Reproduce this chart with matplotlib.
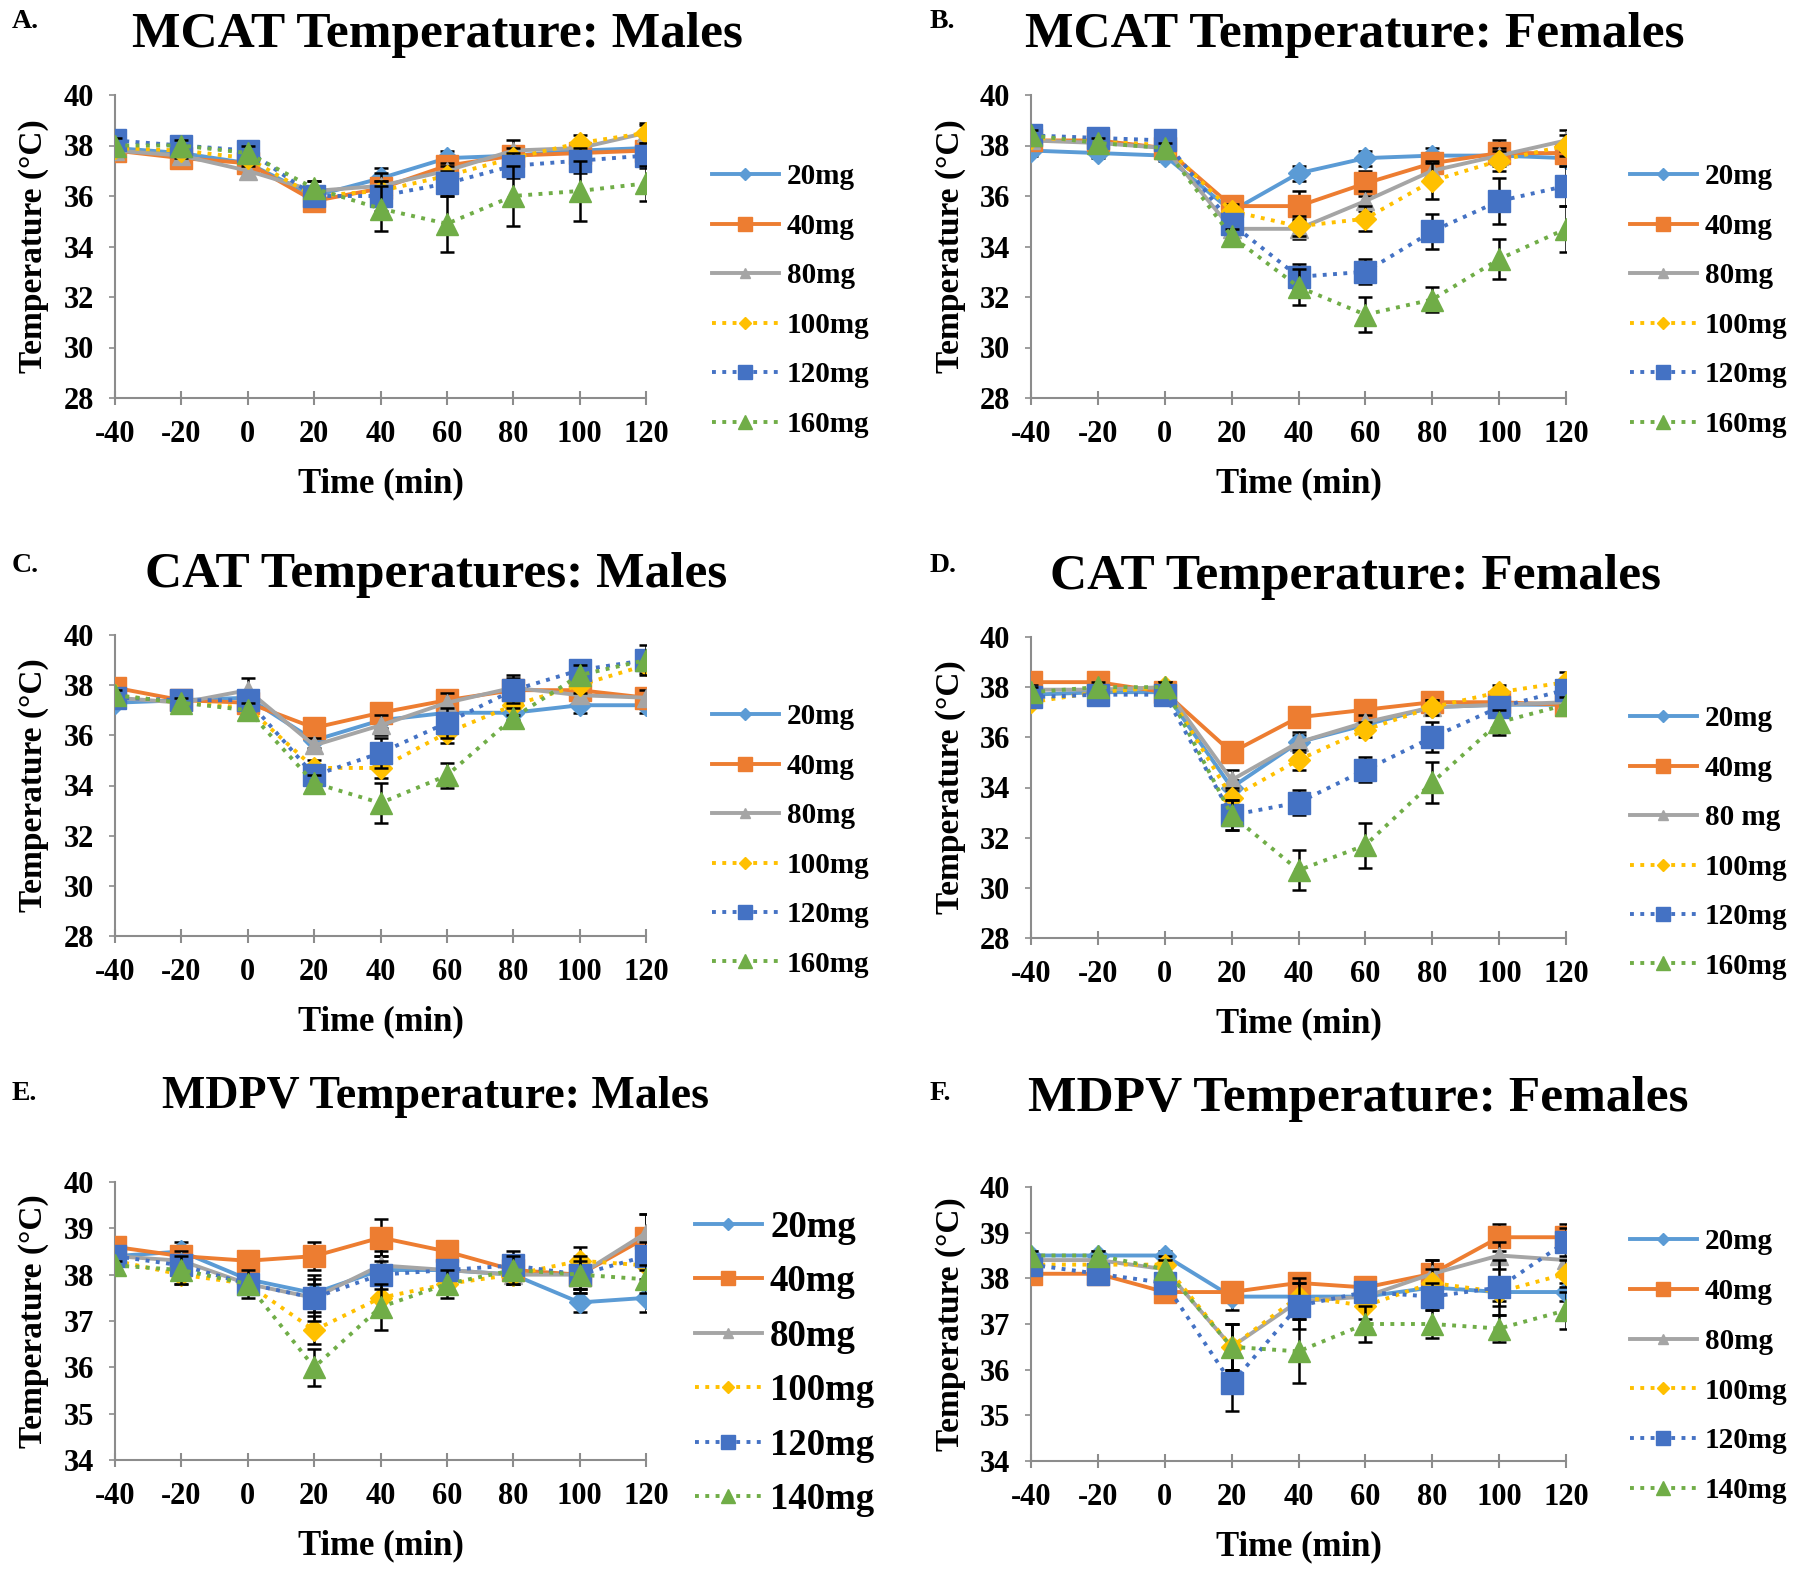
import numpy as np
import matplotlib
matplotlib.use("Agg")
import matplotlib.pyplot as plt

plt.rcParams['font.family'] = ['Liberation Serif', 'DejaVu Serif']
plt.rcParams['font.weight'] = 'bold'

# x categories (min)
times = [-40, -20, 0, 20, 40, 60, 80, 100, 120]

doses_a = ['20mg', '40mg', '80mg', '100mg', '120mg', '160mg']
doses_d = ['20mg', '40mg', '80 mg', '100mg', '120mg', '160mg']
doses_e = ['20mg', '40mg', '80mg', '100mg', '120mg', '140mg']

# A. MCAT males
mcat_m = [
    [37.9, 37.7, 37.3, 36.0, 36.7, 37.5, 37.6, 37.8, 37.9],
    [37.8, 37.5, 37.3, 35.8, 36.3, 37.2, 37.6, 37.7, 37.8],
    [37.8, 37.6, 37.0, 36.2, 36.4, 37.0, 37.8, 37.9, 38.5],
    [37.9, 37.8, 37.5, 36.0, 36.2, 36.8, 37.5, 38.1, 38.5],
    [38.2, 38.0, 37.8, 36.0, 36.0, 36.5, 37.2, 37.4, 37.6],
    [38.0, 38.0, 37.7, 36.3, 35.5, 34.9, 36.0, 36.2, 36.5],
]
mcat_m_sem = [
    [0.3, 0.2, 0.3, 0.3, 0.4, 0.3, 0.3, 0.3, 0.3],
    [0.3, 0.3, 0.3, 0.3, 0.4, 0.3, 0.3, 0.3, 0.3],
    [0.3, 0.3, 0.3, 0.4, 0.5, 0.3, 0.4, 0.3, 0.3],
    [0.3, 0.3, 0.3, 0.4, 0.4, 0.4, 0.4, 0.3, 0.4],
    [0.3, 0.3, 0.3, 0.4, 0.6, 0.5, 0.5, 0.5, 0.5],
    [0.3, 0.2, 0.3, 0.3, 0.9, 1.1, 1.2, 1.2, 0.7],
]

# B. MCAT females
mcat_f = [
    [37.8, 37.7, 37.6, 35.4, 36.9, 37.5, 37.6, 37.6, 37.5],
    [38.2, 38.2, 37.9, 35.6, 35.6, 36.5, 37.3, 37.7, 37.7],
    [38.2, 38.1, 37.9, 34.7, 34.7, 35.8, 37.0, 37.6, 38.2],
    [38.3, 38.2, 38.0, 35.4, 34.8, 35.1, 36.6, 37.4, 38.0],
    [38.4, 38.3, 38.2, 34.9, 32.8, 33.0, 34.6, 35.8, 36.4],
    [38.4, 38.1, 37.9, 34.4, 32.4, 31.3, 31.9, 33.5, 34.7],
]
mcat_f_sem = [
    [0.2, 0.2, 0.2, 0.3, 0.3, 0.3, 0.3, 0.3, 0.3],
    [0.2, 0.2, 0.2, 0.3, 0.6, 0.5, 0.4, 0.5, 0.4],
    [0.2, 0.2, 0.2, 0.3, 0.4, 0.4, 0.4, 0.3, 0.4],
    [0.2, 0.2, 0.2, 0.3, 0.4, 0.5, 0.7, 0.4, 0.4],
    [0.2, 0.2, 0.2, 0.4, 0.5, 0.5, 0.7, 0.9, 0.8],
    [0.2, 0.2, 0.2, 0.3, 0.7, 0.7, 0.5, 0.8, 0.9],
]

# C. CAT males
cat_m = [
    [37.3, 37.4, 37.5, 35.8, 36.6, 36.9, 36.9, 37.2, 37.2],
    [37.9, 37.4, 37.3, 36.3, 36.9, 37.4, 37.8, 37.8, 37.5],
    [37.5, 37.3, 37.8, 35.6, 36.4, 37.3, 37.9, 37.6, 37.5],
    [37.6, 37.3, 37.1, 34.7, 34.7, 36.1, 37.2, 38.0, 38.8],
    [37.5, 37.4, 37.4, 34.4, 35.3, 36.5, 37.8, 38.6, 39.0],
    [37.6, 37.3, 37.0, 34.1, 33.3, 34.4, 36.7, 38.4, 39.0],
]
cat_m_sem = [
    [0.2, 0.2, 0.3, 0.3, 0.3, 0.3, 0.3, 0.3, 0.3],
    [0.2, 0.2, 0.3, 0.3, 0.3, 0.3, 0.3, 0.3, 0.3],
    [0.2, 0.2, 0.5, 0.3, 0.4, 0.4, 0.5, 0.3, 0.3],
    [0.2, 0.2, 0.3, 0.3, 0.4, 0.4, 0.4, 0.3, 0.3],
    [0.2, 0.2, 0.2, 0.3, 0.6, 0.6, 0.5, 0.3, 0.3],
    [0.2, 0.2, 0.3, 0.3, 0.8, 0.5, 0.4, 0.4, 0.6],
]

# D. CAT females
cat_f = [
    [37.7, 37.8, 37.8, 34.0, 35.8, 36.5, 37.2, 37.3, 37.3],
    [38.2, 38.2, 37.8, 35.4, 36.8, 37.1, 37.4, 37.4, 37.3],
    [37.9, 37.9, 38.0, 34.3, 35.8, 36.6, 37.2, 37.3, 37.4],
    [37.4, 37.8, 38.0, 33.6, 35.1, 36.3, 37.2, 37.8, 38.2],
    [37.6, 37.7, 37.7, 32.9, 33.4, 34.7, 36.0, 37.2, 37.9],
    [37.8, 38.0, 38.0, 32.9, 30.7, 31.7, 34.2, 36.6, 37.3],
]
cat_f_sem = [
    [0.2, 0.2, 0.2, 0.3, 0.3, 0.3, 0.3, 0.3, 0.3],
    [0.2, 0.2, 0.2, 0.3, 0.3, 0.3, 0.3, 0.3, 0.3],
    [0.2, 0.2, 0.2, 0.4, 0.4, 0.3, 0.3, 0.3, 0.3],
    [0.2, 0.2, 0.2, 0.4, 0.4, 0.3, 0.3, 0.3, 0.4],
    [0.2, 0.2, 0.2, 0.6, 0.5, 0.5, 0.6, 0.4, 0.4],
    [0.2, 0.2, 0.2, 0.6, 0.8, 0.9, 0.8, 0.5, 0.3],
]

# E. MDPV males
mdpv_m = [
    [38.4, 38.5, 37.9, 37.6, 38.1, 38.1, 38.0, 37.4, 37.5],
    [38.6, 38.4, 38.3, 38.4, 38.8, 38.5, 38.1, 38.0, 38.8],
    [38.4, 38.3, 37.8, 37.5, 38.2, 38.1, 38.0, 38.0, 38.9],
    [38.3, 38.0, 37.8, 36.8, 37.5, 37.8, 38.0, 38.3, 38.2],
    [38.4, 38.2, 37.8, 37.5, 38.0, 38.1, 38.2, 38.0, 38.4],
    [38.2, 38.1, 37.8, 36.0, 37.3, 37.8, 38.1, 38.0, 37.9],
]
mdpv_m_sem = [
    [0.1, 0.2, 0.2, 0.3, 0.3, 0.2, 0.2, 0.2, 0.3],
    [0.1, 0.2, 0.2, 0.3, 0.4, 0.2, 0.2, 0.3, 0.5],
    [0.1, 0.2, 0.2, 0.3, 0.3, 0.2, 0.2, 0.3, 0.4],
    [0.1, 0.2, 0.2, 0.3, 0.3, 0.2, 0.2, 0.3, 0.3],
    [0.1, 0.2, 0.2, 0.5, 0.3, 0.2, 0.3, 0.3, 0.3],
    [0.1, 0.3, 0.3, 0.4, 0.5, 0.3, 0.3, 0.4, 0.3],
]

# F. MDPV females
mdpv_f = [
    [38.5, 38.5, 38.5, 37.6, 37.6, 37.6, 37.8, 37.7, 37.7],
    [38.1, 38.1, 37.7, 37.7, 37.9, 37.8, 38.1, 38.9, 38.9],
    [38.4, 38.4, 38.2, 36.5, 37.5, 37.6, 38.1, 38.5, 38.4],
    [38.3, 38.3, 38.3, 36.5, 37.6, 37.4, 37.9, 37.7, 38.1],
    [38.3, 38.1, 37.9, 35.7, 37.4, 37.7, 37.6, 37.8, 38.8],
    [38.5, 38.5, 38.2, 36.5, 36.4, 37.0, 37.0, 36.9, 37.3],
]
mdpv_f_sem = [
    [0.1, 0.1, 0.1, 0.3, 0.3, 0.2, 0.2, 0.2, 0.2],
    [0.1, 0.1, 0.1, 0.2, 0.2, 0.2, 0.3, 0.3, 0.3],
    [0.1, 0.1, 0.2, 0.5, 0.4, 0.2, 0.3, 0.3, 0.3],
    [0.1, 0.1, 0.2, 0.5, 0.4, 0.3, 0.3, 0.3, 0.3],
    [0.1, 0.2, 0.2, 0.6, 0.5, 0.2, 0.3, 0.6, 0.3],
    [0.1, 0.1, 0.2, 0.5, 0.7, 0.4, 0.3, 0.3, 0.4],
]

colors = ['#5B9BD5', '#ED7D31', '#A5A5A5', '#FFC000', '#4472C4', '#70AD47']
styles = ['-', '-', '-', ':', ':', ':']
markers = ['D', 's', '^', 'D', 's', '^']
msizes = [11, 16, 13, 11, 16, 16]

W, H = 1800, 1573
fig = plt.figure(figsize=(W / 100, H / 100), dpi=100)


def px_axes(left, top, right, bottom):
    return fig.add_axes([left / W, 1 - bottom / H, (right - left) / W, (bottom - top) / H])


def panel(box, letter, title, title_xy, title_fs, data, sem, labels, ylim, yticks,
          leg_xy, leg_fs, leg_space):
    ax = px_axes(*box)
    x = np.arange(len(times))
    for i in range(len(data)):
        ax.errorbar(x, data[i], yerr=sem[i], fmt='none', ecolor='black',
                    elinewidth=1.8, capsize=5, capthick=1.8, zorder=2 + i * 2)
        ax.plot(x, data[i], color=colors[i], linestyle=styles[i], linewidth=2.8,
                marker=markers[i], markersize=msizes[i], markerfacecolor=colors[i],
                markeredgecolor=colors[i], label=labels[i], zorder=3 + i * 2)
    ax.set_xlim(0, len(times) - 1)
    ax.set_ylim(*ylim)
    ax.set_yticks(yticks)
    ax.set_xticks(x)
    ax.set_xticklabels([str(t) for t in times])
    for s in ['top', 'right']:
        ax.spines[s].set_visible(False)
    for s in ['left', 'bottom']:
        ax.spines[s].set_color('#8C8C8C')
        ax.spines[s].set_linewidth(1.5)
    ax.tick_params(axis='x', direction='inout', length=10, width=1.5, color='#8C8C8C',
                   labelsize=22, pad=11)
    ax.tick_params(axis='y', direction='out', length=4, width=1.2, color='#8C8C8C',
                   labelsize=22, pad=11)
    for lab in ax.get_xticklabels() + ax.get_yticklabels():
        lab.set_fontweight('bold')

    left, top, right, bottom = box
    fig.text(title_xy[0] / W, 1 - title_xy[1] / H, title, fontsize=title_fs, fontweight='bold',
             ha='center', va='center')
    fig.text(letter[1] / W, 1 - letter[2] / H, letter[0], fontsize=20, fontweight='bold',
             ha='left', va='center')
    fig.text((left - 81) / W, 1 - (top + bottom) / 2 / H, 'Temperature (°C)', fontsize=24,
             fontweight='bold', rotation=90, ha='center', va='center')
    fig.text((left + right) / 2 / W, 1 - (bottom + 86) / H, 'Time (min)', fontsize=25,
             fontweight='bold', ha='center', va='center')

    handles, labs = ax.get_legend_handles_labels()
    fs_px = leg_fs * 100 / 72
    fig.legend(handles, labs, loc='upper left',
               bbox_to_anchor=(leg_xy[0] / W, 1 - (leg_xy[1] - 0.5 * fs_px) / H),
               frameon=False, borderpad=0, borderaxespad=0,
               handlelength=48 / leg_fs, handletextpad=6 / leg_fs,
               labelspacing=leg_space, markerscale=0.6,
               prop={'weight': 'bold', 'size': leg_fs})
    return ax


ticks28 = [28, 30, 32, 34, 36, 38, 40]
ticks34 = [34, 35, 36, 37, 38, 39, 40]

panel((115, 95, 646, 398), ('A.', 12, 21), 'MCAT Temperature: Males', (437, 35), 37,
      mcat_m, mcat_m_sem, doses_a, (28, 40), ticks28, (712, 178), 21, 0.77)
panel((1031, 95, 1566, 398), ('B.', 930, 21), 'MCAT Temperature: Females', (1355, 35), 37,
      mcat_f, mcat_f_sem, doses_a, (28, 40), ticks28, (1630, 178), 21, 0.77)
panel((115, 635, 646, 936), ('C.', 12, 565), 'CAT Temperatures: Males', (436, 575), 37,
      cat_m, cat_m_sem, doses_a, (28, 40), ticks28, (712, 718), 21, 0.77)
panel((1031, 637, 1566, 938), ('D.', 930, 565), 'CAT Temperature: Females', (1355, 577), 37,
      cat_f, cat_f_sem, doses_d, (28, 40), ticks28, (1630, 720), 21, 0.77)
panel((115, 1182, 646, 1460), ('E.', 12, 1093), 'MDPV Temperature: Males', (436, 1097), 33,
      mdpv_m, mdpv_m_sem, doses_e, (34, 40), ticks34, (695, 1228), 26.5, 0.53)
panel((1031, 1187, 1566, 1461), ('F.', 930, 1093), 'MDPV Temperature: Females', (1358, 1099), 37,
      mdpv_f, mdpv_f_sem, doses_e, (34, 40), ticks34, (1630, 1243), 21, 0.78)

fig.savefig('out.png', dpi=100)
